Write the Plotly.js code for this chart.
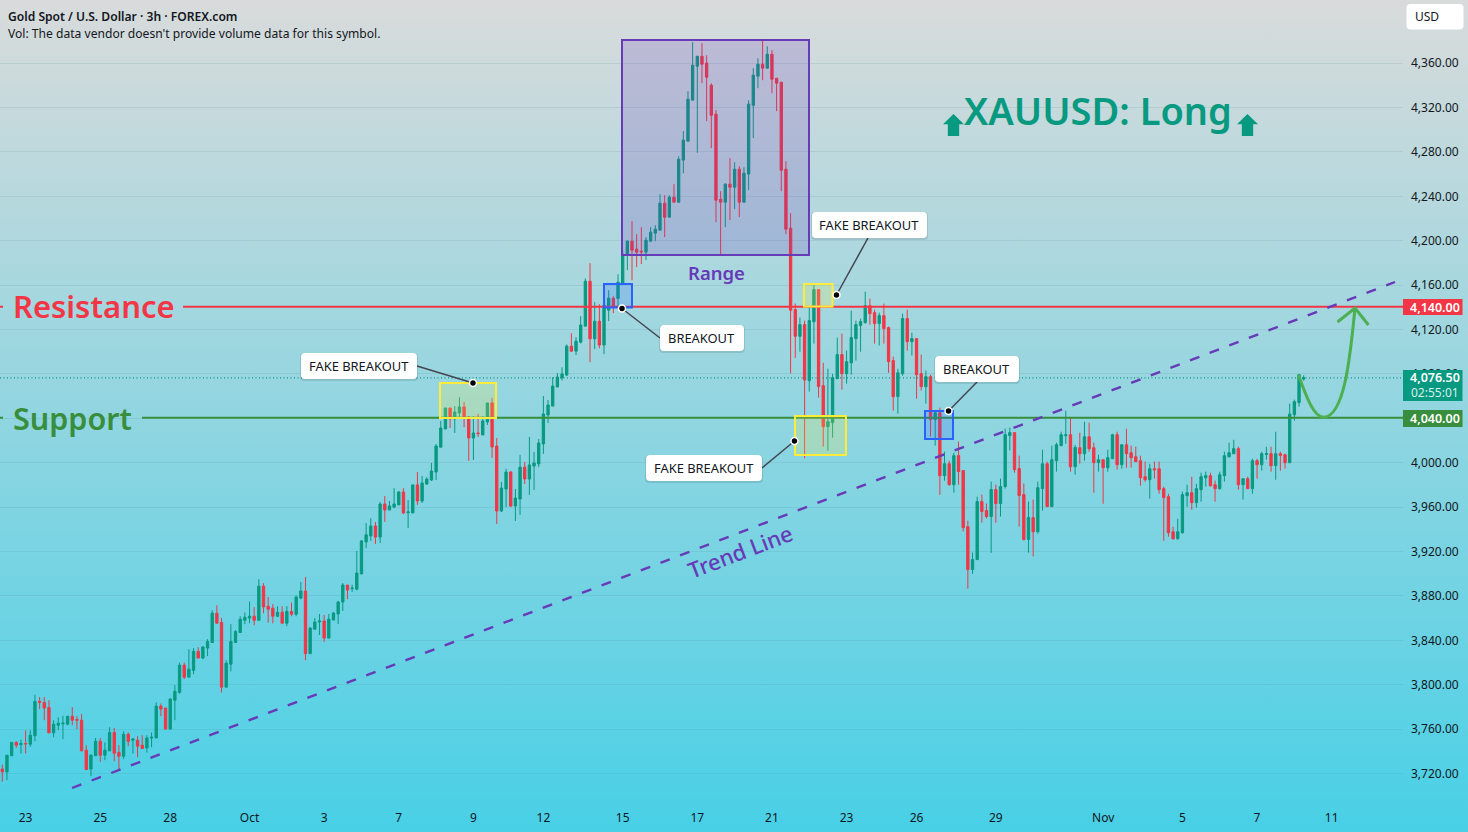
<!DOCTYPE html>
<html>
<head>
<meta charset="utf-8">
<script src="https://cdn.plot.ly/plotly-3.0.1.min.js"></script>
<style>
html,body{margin:0;padding:0;background:linear-gradient(180deg,#d9dbdb 0%,#48d0e6 100%);width:1468px;height:832px;overflow:hidden}
#chart{width:1468px;height:832px}
</style>
</head>
<body>
<div id="chart"></div>
<script>
const opens=[3724,3721.5,3736,3748,3746,3747,3746.4,3754,3785,3784,3779.5,3756.6,3763.5,3764.7,3764.4,3771.6,3768.6,3768,3741,3724,3736,3749,3736.5,3740.4,3757,3739,3735.6,3755.4,3750,3750,3745.5,3743,3752,3752,3780.7,3779,3760,3786,3793,3817.6,3806.8,3813,3830,3824,3833,3838,3864.4,3856,3797.8,3818.5,3838,3847,3858,3860,3861.7,3858,3888.8,3870.7,3869,3861.7,3865.3,3855.4,3866,3863.5,
3878,3884.4,3828,3850,3856.5,3857.4,3842,3858.3,3863.7,3874.5,3889.8,3886.5,3886,3899.8,3928.6,3934,3943,3933,3962.8,3957.4,3960,3962,3973.6,3955,3954.7,3980,3965.5,3980.8,3984.4,3991.6,4014,4030.4,4049.3,4039.4,4044.8,4050.2,4041.2,4022.3,4026.8,4025,4036.7,4053.8,4015,3956.5,3976.3,3991.6,3961,3967.3,3996,3985.3,3997,3998.9,4016.9,4043,4051,4068.2,4076.4,4079,
4105,4100.5,4108.6,4123,4163.5,4111.6,4127.5,4106,4137.4,4148.2,4148,4161.4,4187,4199.6,4192.4,4190.6,4189.7,4199.6,4206.8,4209.5,4233.8,4221.2,4239.2,4234.7,4272.6,4289.7,4326.6,4357.2,4366.2,4360,4340,4314,4237.4,4234.7,4250.9,4248.2,4264.4,4234.7,4260,4322,4348.2,4359,4355.4,4368,4346.4,4342.8,4264.4,4211.3,
4138,4113.9,4124.4,4074,4127,4155.9,4069.4,4032.5,4036,4075.7,4097.4,4080.2,4090,4111.8,4123.5,4126.2,4141.5,4135.2,4125.3,4132.5,4121.7,4092,4059.5,4080.2,4129.8,4109,4111.8,4080.2,4068.5,4077.5,4038.8,4045,3988.3,3999,3980.2,4006.4,3992.9,3942.4,3903.7,3912.7,3965,3956.9,3951.5,3975.8,3963.2,3978.5,4024.4,4027.1,3994.7,3971.3,3930.8,3950.5,3937.8,
3976.6,3999,3960.4,4001.8,4015.3,4024.3,4025.2,3996.4,4013.5,4008.1,4023.4,4013.5,4000,4002.7,3995.5,4003.6,4025.2,3998.2,4016.2,4009,4005.4,4001.8,3987.4,3984.7,3994.6,3994.6,3976.6,3969.4,3937.8,3931.5,3936.9,3970.3,3973,3964,3975.7,3986.5,3988.3,3980.2,3976.6,3988.3,4005.4,4008.1,4012.6,3980.2,3985.6,3976.6,4001.8,3998.2,4007.5,4008.1,3997.3,4008.1,4007.2,4000,4043.2,4054.1,4075.4];
const highs=[3728,3736.5,3748,3749,3750.6,3758.7,3759,3791,3789,3789,3786,3768,3770.7,3772,3771.6,3779.8,3771.6,3773.7,3745.5,3737.4,3752,3752,3748,3761.7,3761,3745.5,3758,3757,3752,3753.6,3754.5,3754.5,3757,3784,3783,3779,3788,3799.6,3820,3820,3832,3833,3833.8,3834.7,3841,3867,3871.6,3860,3822,3854.5,3849,3861.7,3865,3875,3870,3895,3891.5,3879,3872.5,3870.7,3870.7,3870.7,3874,3880.6,
3892.6,3897,3852,3860,3863.7,3862.8,3863.7,3865.5,3875.4,3891.6,3889.8,3890,3920.5,3930.4,3945.7,3950,3946.6,3964.6,3970,3965.5,3977,3974.5,3977,3966.4,3980,3991.6,3988,3987,3999.8,4016.9,4037.6,4049.3,4049.3,4051,4059,4054.7,4042,4042,4043.9,4042,4053.8,4058.3,4022.3,3982.6,3994.4,3992.5,3976.3,4007,4000.7,4023.2,4009.7,4021.4,4060,4056.5,4077.2,4080.8,4086,4106.5,
4116.7,4113,4132,4166,4179.8,4144.6,4142.8,4143.7,4155.4,4150,4169.8,4191.5,4200.5,4217.6,4205.9,4212.2,4203.2,4212.2,4214,4241.9,4241,4241,4250.9,4276,4298.7,4334.7,4378.9,4366.2,4378,4367,4341.9,4317.6,4244.6,4251.8,4274.4,4270.7,4267.1,4266.2,4326.6,4355.4,4364.4,4381.6,4375.2,4371.7,4346.4,4342.8,4271.6,4224.8,
4143.4,4130.7,4128,4139.7,4160.4,4155.9,4090,4084.7,4080,4112.7,4116.3,4101,4137,4128,4129.8,4154,4147.8,4137.9,4135.2,4143.3,4122.6,4095.6,4084.7,4134.3,4137.9,4117.2,4111.8,4097.4,4083,4079.3,4047,4049.6,4010,4001.9,4009,4019,3992.9,3947.8,3919,3969.4,3971.2,3963.2,3983,3980.3,3985.7,4030.7,4031.6,4027.1,4006.4,3981.2,3965,3966.7,3983,
4011.7,4001,4015.3,4018,4027.9,4046.8,4040.5,4016,4027,4036.9,4036,4018,4007.2,4002.7,4011.7,4026.1,4027.9,4016.2,4030.6,4015.3,4014.4,4006.3,4001,3999,4001,4001,3978.4,3972,3942.3,3949.5,3973.9,3980.2,3987.4,3981,3991,3991.9,3991,3983.8,3991.9,4009.9,4018,4020.7,4014.4,3985.6,3987.4,4003.6,4003.6,4009.9,4014.4,4014.4,4027.9,4009.9,4008.1,4053.2,4056.8,4079.3,4078.7];
const lows=[3712.5,3714,3736,3743,3738,3738,3744,3749,3778,3768,3756.6,3752.7,3759,3751,3763.5,3763.5,3760,3740.4,3723,3717.6,3736,3730.5,3732,3740.4,3731,3723,3733,3744.6,3738,3734.7,3742,3739,3743.7,3752,3771.6,3760,3760,3768,3792,3805,3806.8,3809.5,3824,3823,3825.7,3838,3855.4,3793,3797.8,3812,3838,3847,3854.5,3855.4,3853.6,3858,3864.4,3856,3855.4,3860.8,3855.4,3852.7,3861.7,3861.7,
3877,3822,3828,3850,3844.8,3838.5,3842,3858,3854.7,3866.4,3877,3883.5,3885,3899.8,3923,3929.5,3926.8,3927.7,3946.6,3957.4,3959,3962,3953.8,3941.2,3954.7,3962,3963.7,3980,3983.5,3984.4,4014,4030.4,4031.3,4026.8,4039.4,4032,4001.6,4002.5,4023.2,4025,4034,4004.3,3944.8,3955.6,3960,3960,3947.5,3953,3980.8,3971,3975.4,3996,4007.9,4035.8,4051,4068.2,4074,4078,
4100,4097,4107.4,4123,4090.6,4102.3,4103,4097.8,4127.5,4134.7,4140,4161.4,4173.5,4164.4,4176.2,4178.9,4182.5,4199.6,4199.6,4209.5,4203.2,4221.2,4234.7,4234.7,4260.8,4289.7,4326.6,4279.2,4342,4307.7,4283.4,4216.7,4187,4212.2,4218.5,4228.4,4221.2,4234.7,4245.5,4292.4,4337.4,4344.6,4355.4,4332.9,4316.7,4244.6,4205.9,4080.5,
4094.4,4100,4004,4064,4107.3,4058.6,4014.5,4010.9,4022.6,4075.7,4065.8,4071.2,4079.3,4092,4100,4125.3,4124.4,4107.3,4105.5,4107.3,4081,4046.9,4044.2,4078.4,4101,4096.5,4057.7,4065,4053.2,4023.5,4015.4,3971,3983.8,3979.3,3973,3980.2,3938,3886.6,3900,3912.7,3946,3949.8,3918.8,3945.9,3951.5,3976.7,4011,3991,3942.4,3929.9,3919,3915.6,3936,
3956.8,3960.4,3960.4,3991.9,4015.3,4017.1,3991.9,3989.2,3999.1,4001.8,4009.9,3973,3991.9,3963,3991.9,4003.6,3993.7,3994.6,3995.5,3995.5,4000.9,3979.3,3982.9,3967.6,3985.6,3972,3929.7,3933.3,3930.6,3930.6,3936,3960.4,3957.7,3959.5,3964.9,3978.4,3978.4,3964.9,3975.7,3982.9,4004.5,4008.1,3975.7,3966.7,3976.6,3972,3985.6,3992.8,4002.7,3991.9,3984.7,3992.8,3994.6,4000,4037.8,4050.5,4073.9];
const closes=[3721.5,3736.5,3748,3745.5,3747,3746.7,3754.5,3785,3784,3779,3756.6,3764.4,3765.3,3765.3,3771.6,3768,3768,3740.4,3723.6,3736.5,3749,3736.5,3741,3757,3738.3,3735.6,3755.4,3749,3751,3744.6,3742.5,3752,3752.7,3780.7,3778,3760,3787,3794,3817.6,3806.8,3814,3830,3824,3834,3839,3864.4,3855.4,3797.8,3819.4,3839,3848,3859,3860.8,3861.7,3858,3888.8,3870,3868,3861.7,3865.3,3855.4,3866,3863.5,3879,
3884.4,3828,3851,3856.5,3857.4,3842,3859,3864.6,3874.5,3889.8,3885.3,3887,3900.6,3929.5,3935,3943,3933,3962.8,3957.4,3961,3962.8,3973.6,3954.7,3955.6,3980,3965.5,3981.7,3985.3,3992.5,4015,4031.3,4049.3,4039.4,4045.7,4050.2,4040.3,4022.3,4026.8,4026.2,4037.6,4053.8,4014.2,3956.5,3977.2,3991.6,3961,3968.2,3996,3985.3,3998,3999.8,4017.8,4043.9,4052,4069.1,4077.2,4080,4105,
4100.5,4109.5,4124,4163.5,4111.6,4127.5,4106,4142,4148.2,4141,4162.6,4187.9,4199.6,4191.5,4189.7,4190,4200.5,4207.7,4210.4,4233.8,4221.2,4239.2,4234.7,4273.4,4290.6,4327.5,4358.1,4366.2,4359,4347.3,4313,4236.5,4234.7,4250.9,4248.2,4264.4,4234.7,4260.8,4323,4349.1,4359,4355.4,4368,4345.5,4341.9,4263.5,4210.4,4137.4,
4113.9,4124.4,4074.5,4128,4155.9,4068.5,4032.5,4037,4076.6,4097.4,4080.2,4091,4112.7,4124.4,4127.1,4141.5,4134.3,4125.3,4132.5,4120.8,4091,4059.5,4081,4129.8,4109,4111.8,4079.3,4068.5,4077.5,4038.8,4045,3988.3,3999,3980.2,4006.4,3992,3941.5,3903.7,3912.7,3965,3956,3951.5,3975.8,3963.2,3978.5,4025.3,4027.1,3993.8,3970.4,3930.8,3950.7,3937.8,3977.5,
3999,3960.4,4002.7,4016.2,4025.2,4025.2,3996.4,4013.8,4008.1,4023.4,4012.6,4000,4002.7,3995.5,4004.5,4025.2,3998.2,4016.2,4008.1,4004.5,4000.9,3986.5,3984.7,3994.6,3993.7,3975.7,3968.5,3936.9,3931.5,3937.8,3971.2,3973,3964,3976.6,3987.4,3988.3,3979.3,3976.6,3989.2,4006.3,4009,4012.6,3980.2,3985.6,3976.6,4001.8,3998.2,4008.1,4008.1,3997.3,4008.1,4006.6,4000,4043.8,4055,4079.3,4076.5];
const tickPositions=[5,21,36,53,69,85,101,116,133,149,165,181,196,213,236,253,269,285];
const tickLabels=['23','25','28','Oct','3','7','9','12','15','17','21','23','26','29','Nov','5','7','11'];
const priceTicks=[3720,3760,3800,3840,3880,3920,3960,4000,4040,4080,4120,4160,4200,4240,4280,4320,4360];
const resistanceLevel=4140, supportLevel=4040, lastPrice=4076.5;

const W=1468,H=832,PW=1403,PH=800;
const n=Math.min(opens.length,highs.length,lows.length,closes.length);
const idx=[...Array(n).keys()];
const step=1301.4/279, firstPx=2.3;
const xr=[-firstPx/step,(PW-firstPx)/step];
const pAt=y=>3840+(640.3-y)/1.11;
const yr=[pAt(PH),pAt(0)];
const fx=p=>p/PW, fy=p=>1-p/PH;
const P={xref:'paper',yref:'paper'};
const rect=(x0,y0,x1,y1,line,fill)=>({type:'rect',...P,x0:fx(x0),x1:fx(x1),y0:fy(y0),y1:fy(y1),line:line,fillcolor:fill});
const seg=(x0,y0,x1,y1,line)=>({type:'line',...P,x0:fx(x0),x1:fx(x1),y0:fy(y0),y1:fy(y1),line:line});
const hl=(x0,x1,price,line)=>({type:'line',xref:'paper',yref:'y',x0:fx(x0),x1:fx(x1),y0:price+0.5,y1:price+0.5,line:line});
const pathS=(d,line,fill)=>({type:'path',...P,path:d,line:line,fillcolor:fill});
const pt=(x,y)=>fx(x)+' '+fy(y);
const rr=(x0,y0,x1,y1,r)=>'M'+pt(x0+r,y0)+' L'+pt(x1-r,y0)+' Q'+pt(x1,y0)+' '+pt(x1,y0+r)+' L'+pt(x1,y1-r)+' Q'+pt(x1,y1)+' '+pt(x1-r,y1)+' L'+pt(x0+r,y1)+' Q'+pt(x0,y1)+' '+pt(x0,y1-r)+' L'+pt(x0,y0+r)+' Q'+pt(x0,y0)+' '+pt(x0+r,y0)+' Z';
const NL={width:0};
const card=(x0,y0,x1,y1,r)=>[pathS(rr(x0-1,y0,x1+1,y1+2,r),NL,'rgba(0,0,0,0.10)'),pathS(rr(x0,y0,x1,y1,r),NL,'#ffffff')];
const dot=(x,y)=>({type:'circle',...P,x0:fx(x-3.5),x1:fx(x+3.5),y0:fy(y+3.5),y1:fy(y-3.5),line:{color:'#ffffff',width:1.5},fillcolor:'#000000'});
const upArrow=(x0,x1,y0,y1)=>{const m=(x0+x1)/2,s=(x1-x0)*0.27,h=y0+(y1-y0)*0.47;
  return pathS('M'+pt(m,y0)+' L'+pt(x1,h)+' L'+pt(m+s,h)+' L'+pt(m+s,y1)+' L'+pt(m-s,y1)+' L'+pt(m-s,h)+' L'+pt(x0,h)+' Z',NL,'#089981');};
const TEAL='#089981',RED='#f23645',GRN='#388e3c',PUR='#673ab7',YEL='#ffeb3b',BLU='#2962ff',CONN={color:'#434651',width:1.5};
const YF='rgba(255,235,59,0.20)',BF='rgba(41,98,255,0.20)';
const trend={color:PUR,width:2.4,dash:'10px,11px'};

const shapes=[
  rect(622,40,809,255,{color:PUR,width:2},'rgba(103,58,183,0.20)'),
  hl(183,PW,resistanceLevel,{color:RED,width:2}),hl(0,3,resistanceLevel,{color:RED,width:2}),
  hl(142,PW,supportLevel,{color:GRN,width:2}),hl(0,3,supportLevel,{color:GRN,width:2}),
  hl(0,PW,lastPrice-0.5,{color:TEAL,width:1.2,dash:'1px,2.5px'}),
  rect(440,383,496,418,{color:YEL,width:2},YF),
  rect(604,284,632,307.5,{color:BLU,width:2},BF),
  rect(804,284,832.5,306.5,{color:YEL,width:2},YF),
  rect(795,416,846,455,{color:YEL,width:2},YF),
  rect(925,411,953,439,{color:BLU,width:2},BF),
  seg(72,788,1395,282,trend),
  seg(417,366,473,383,CONN),seg(660,338,622,308.5,CONN),seg(868,238,836.5,295,CONN),seg(762,468,794.5,441,CONN),seg(977,382,948.5,411,CONN),
  ...card(301,353,417,379,4),...card(660,325,744,351,4),...card(812,212,927,238,4),...card(646,455,762,481,4),...card(935,356,1019,382,4),
  dot(473,383),dot(622,308.5),dot(836.5,295),dot(794.5,441),dot(948.5,411),
  upArrow(943,964,114,136),upArrow(1237,1258,114,136),
  pathS('M'+pt(1298.5,375)+' C'+pt(1305,393)+' '+pt(1313,417)+' '+pt(1323.5,417.3)+' C'+pt(1344,417)+' '+pt(1350,360)+' '+pt(1355,308),{color:'#4caf50',width:3},'rgba(0,0,0,0)'),
  pathS('M'+pt(1337.5,322)+' L'+pt(1355,308)+' L'+pt(1368.5,325),{color:'#4caf50',width:3},'rgba(0,0,0,0)'),
  rect(1403,299,1462.5,315,NL,RED),
  rect(1403,410,1462.5,427,NL,GRN),
  rect(1403,370,1462.5,401,NL,TEAL),
  pathS(rr(1406.5,4,1463.5,29.5,4),NL,'#ffffff')
];
const UI='"Noto Sans",sans-serif';
const txt=(s,x,y,size,color,anchor,extra)=>Object.assign({...P,x:fx(x),y:fy(y),text:s,showarrow:false,xanchor:anchor||'center',yanchor:'middle',font:{family:UI,size:size,color:color}},extra||{});
const annotations=[
  txt('Gold Spot / U.S. Dollar · 3h · FOREX.com',6,16,12.1,'#131722','left',{font:{family:UI,size:12.1,color:'#131722',weight:600}}),
  txt("Vol: The data vendor doesn't provide volume data for this symbol.",6,33,12.1,'#131722','left'),
  txt('Resistance',11,306,31,RED,'left',{font:{family:UI,size:31,color:RED,weight:600}}),
  txt('Support',11,418,30.5,GRN,'left',{font:{family:UI,size:30.5,color:GRN,weight:600}}),
  txt('Range',716,272,18.5,PUR,'center',{font:{family:UI,size:18.5,color:PUR,weight:600}}),
  txt('Trend Line',740,551,22,PUR,'center',{textangle:-21,font:{family:UI,size:22,color:PUR,weight:500}}),
  txt('XAUUSD: Long',1097.5,110,38,TEAL,'center',{font:{family:UI,size:38,color:TEAL,weight:600}}),
  txt('FAKE BREAKOUT',359,366,12.9,'#131722'),txt('BREAKOUT',701,338,12.9,'#131722'),txt('FAKE BREAKOUT',869,225,12.9,'#131722'),txt('FAKE BREAKOUT',704,468,12.9,'#131722'),txt('BREAKOUT',976,369,12.9,'#131722'),
  txt('USD',1413,17,12,'#131722','left'),
  txt('4,140.00',1434.5,307,12.5,'#ffffff','center',{font:{family:UI,size:12.5,color:'#ffffff',weight:600}}),
  txt('4,040.00',1434.5,418.5,12.5,'#ffffff','center',{font:{family:UI,size:12.5,color:'#ffffff',weight:600}}),
  txt('4,076.50',1434.5,378,12.5,'#ffffff','center',{font:{family:UI,size:12.5,color:'#ffffff',weight:600}}),
  txt('02:55:01',1434.5,392,12,'#d7efe9')
];
const trace={type:'candlestick',x:idx,open:opens,high:highs,low:lows,close:closes,whiskerwidth:0,hoverinfo:'skip',
  increasing:{line:{color:TEAL,width:1},fillcolor:TEAL},decreasing:{line:{color:RED,width:1},fillcolor:RED}};
const layout={width:W,height:H,autosize:false,showlegend:false,paper_bgcolor:'rgba(0,0,0,0)',plot_bgcolor:'rgba(0,0,0,0)',
  margin:{l:0,r:W-PW,t:0,b:H-PH,pad:0},boxgap:0.5,boxgroupgap:0,
  xaxis:{type:'linear',range:xr,rangeslider:{visible:false},tickmode:'array',tickvals:tickPositions,ticktext:tickLabels,showgrid:false,zeroline:false,showline:false,ticks:'',ticklabelstandoff:9,tickfont:{family:UI,size:12,color:'#131722'},tickangle:0},
  yaxis:{side:'right',range:yr,tickmode:'array',tickvals:priceTicks,ticktext:priceTicks.map(v=>v.toLocaleString('en-US',{minimumFractionDigits:2,maximumFractionDigits:2})),showgrid:true,gridcolor:'rgba(70,120,130,0.13)',gridwidth:1,zeroline:false,showline:false,ticks:'',ticklabelstandoff:7,tickfont:{family:UI,size:12,color:'#131722'}},
  shapes:shapes,annotations:annotations};
Plotly.newPlot('chart',[trace],layout,{displayModeBar:false,staticPlot:true});
</script>
</body>
</html>
